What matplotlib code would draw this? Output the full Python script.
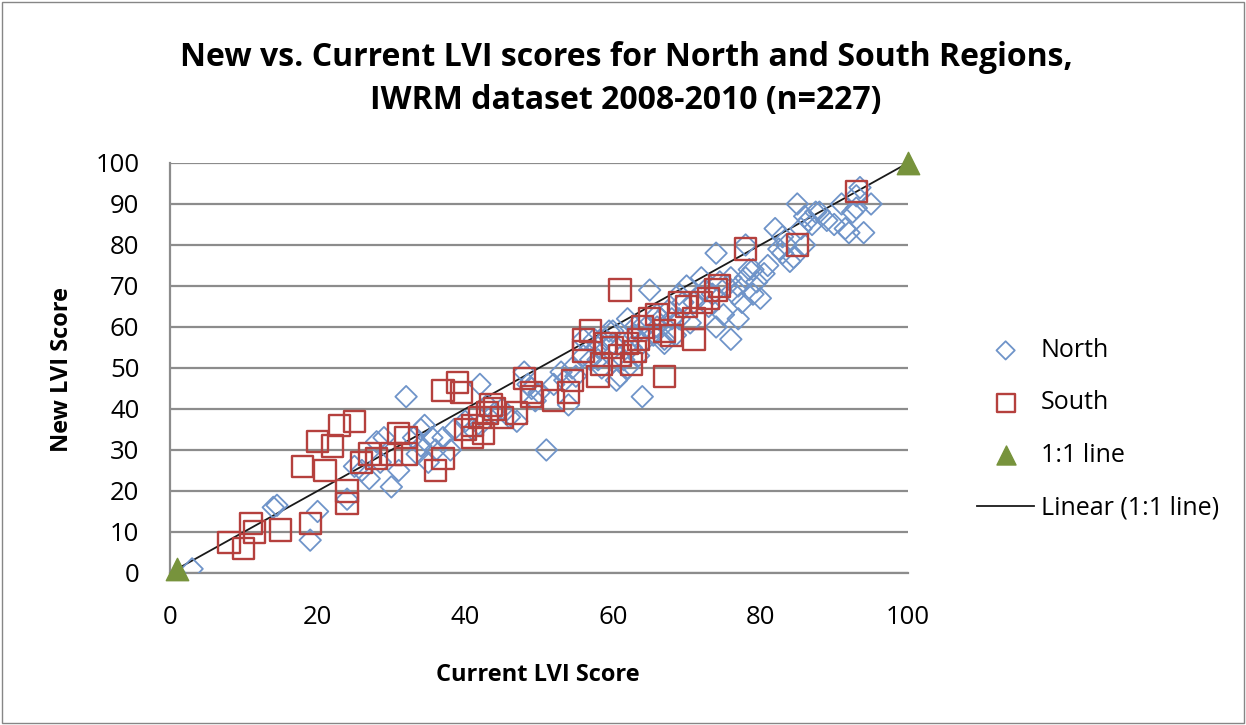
import numpy as np
import matplotlib.pyplot as plt
from matplotlib.patches import Rectangle

# leitura aproximada dos pontos do grafico
north_x = [3, 14, 14.5, 19, 20, 24, 25, 26, 27, 28, 28.5, 29, 30, 31, 32, 33, 33.5, 34, 34, 34.5,
           35, 35.5, 36, 37, 38, 38.5, 40, 41, 42, 42, 43, 44, 45, 46, 47, 48, 48.5, 49, 49.5, 50,
           51, 52, 53, 53.5, 54, 54.5, 55, 56, 57, 57.5, 58, 58.5, 59, 59.5, 60, 60, 60.5, 61, 61.5, 62,
           62, 62.5, 63, 63.5, 64, 64, 64.5, 65, 65.5, 66, 66.5, 67, 67.5, 68, 68.5, 69, 69.5, 70, 70.5, 71,
           72, 72.5, 73, 73.5, 74, 74, 74.5, 75, 75.5, 76, 76, 76.5, 77, 77, 77.5, 78, 78, 78.5, 79, 79,
           79.5, 80, 80.5, 81, 82, 82.5, 83, 83, 83.5, 84, 84.5, 85, 85.5, 86, 86, 86.5, 87, 87.5, 88, 89,
           90, 91, 91.5, 92, 92.5, 93, 93, 93.5, 94, 95, 56, 58, 63, 66, 67, 69]
north_y = [1, 16, 16.5, 8, 15, 18, 26, 25, 23, 32, 27, 33, 21, 25, 43, 33, 29, 35, 31, 36,
           27, 33, 30, 33, 30, 35, 37, 35, 46, 36, 41, 39, 40, 38, 37, 49, 46, 45, 42, 44,
           30, 46, 49, 47, 41, 50, 48, 53, 52, 57, 55, 50, 57, 59, 59, 56, 47, 48, 52, 50,
           62, 55, 58, 53, 43, 56, 60, 69, 58, 60, 62, 56, 64, 62, 58, 68, 66, 70, 61, 66,
           72, 69, 65, 68, 78, 60, 71, 63, 70, 57, 72, 68, 70, 62, 66, 80, 72, 74, 68, 74,
           71, 67, 73, 75, 84, 79, 78, 82, 80, 76, 77, 90, 84, 87, 80, 86, 85, 88, 88, 86,
           85, 90, 84, 83, 88, 92, 89, 94, 83, 90, 57, 52, 60, 63, 57, 62]

south_x = [8, 10, 11, 11.5, 15, 19, 18, 20, 21, 22, 23, 24, 24, 25, 26, 27, 28, 30, 31, 32,
           32, 36, 37, 37, 39, 39.5, 40, 41, 41, 42, 42.5, 43, 44, 43.5, 45, 47, 48, 49, 49, 52,
           54, 54.5, 56, 56, 57, 58, 58.5, 59, 60, 61, 61, 62, 62.5, 63, 63.5, 64, 65, 66, 67, 67,
           68, 69, 70, 71, 71, 72, 73, 74, 74.5, 78, 85, 93]
south_y = [7.5, 6, 12, 10, 10.5, 12, 26, 32, 25, 31, 36, 20, 17, 37, 27, 29, 28, 29, 34, 33,
           29, 25, 28, 44.5, 46.5, 44, 35, 33, 36, 38, 34, 39, 40, 41, 38, 39, 47.5, 44, 43, 42,
           44, 47, 57, 54, 59, 48, 51, 56, 55, 69, 53, 56, 51, 54, 57, 60, 62, 63, 48, 59,
           58, 66, 65, 57, 62, 66, 67, 69, 70, 79, 80, 93]

line_x = [1, 100]
line_y = [1, 100]

FONT = 'Open Sans'
plt.rcParams['font.family'] = FONT

fig = plt.figure(figsize=(12.46, 7.25), dpi=100)
fig.patches.append(Rectangle((0.002, 0.003), 0.996, 0.994, transform=fig.transFigure,
                             fill=False, edgecolor='#868686', linewidth=1))
ax = fig.add_axes([0.1364, 0.2097, 0.5923, 0.5655])

ax.plot(line_x, line_y, color='#1a1a1a', linewidth=1.3, zorder=2, label='Linear (1:1 line)')
ax.scatter(north_x, north_y, marker='D', s=120, facecolors='none', edgecolors='#6f94c9',
           linewidths=1.3, zorder=3, label='North')
ax.scatter(south_x, south_y, marker='s', s=235, facecolors='none', edgecolors='#b5403d',
           linewidths=1.7, zorder=4, label='South')
ax.scatter(line_x, line_y, marker='^', s=260, color='#77933c', zorder=5, clip_on=False,
           label='1:1 line')

ax.set_xlim(0, 100)
ax.set_ylim(0, 100)
ax.set_xticks(range(0, 101, 20))
ax.set_yticks(range(0, 101, 10))
ax.grid(axis='y', color='#8c8c8c', linewidth=1.6)
ax.set_axisbelow(True)
for s in ['top', 'right']:
    ax.spines[s].set_visible(False)
for s in ['left', 'bottom']:
    ax.spines[s].set_color('#8c8c8c')
    ax.spines[s].set_linewidth(1.6)
ax.tick_params(length=0, labelsize=18.5)
ax.tick_params(axis='y', pad=22)
ax.tick_params(axis='x', pad=23)

fig.text(0.432, 0.069, 'Current LVI Score', ha='center', va='center', fontsize=17, fontweight='bold')
fig.text(0.05, 0.49, 'New LVI Score', ha='center', va='center', fontsize=17, fontweight='bold',
         rotation=90)

fig.text(0.5025, 0.920, 'New vs. Current LVI scores for North and South Regions,',
         ha='center', va='center', fontsize=23, fontweight='bold')
fig.text(0.5025, 0.862, 'IWRM dataset 2008-2010 (n=227)',
         ha='center', va='center', fontsize=23, fontweight='bold')

h, l = ax.get_legend_handles_labels()
order = [1, 2, 3, 0]
leg = fig.legend([h[i] for i in order], [l[i] for i in order], loc='center left',
                 bbox_to_anchor=(0.784, 0.408), frameon=False, labelspacing=1.1,
                 handlelength=2.3, handletextpad=0.25, borderpad=0, borderaxespad=0,
                 prop={'family': FONT, 'size': 18}, scatterpoints=1, markerscale=0.85)

plt.savefig('out.png', dpi=100)
